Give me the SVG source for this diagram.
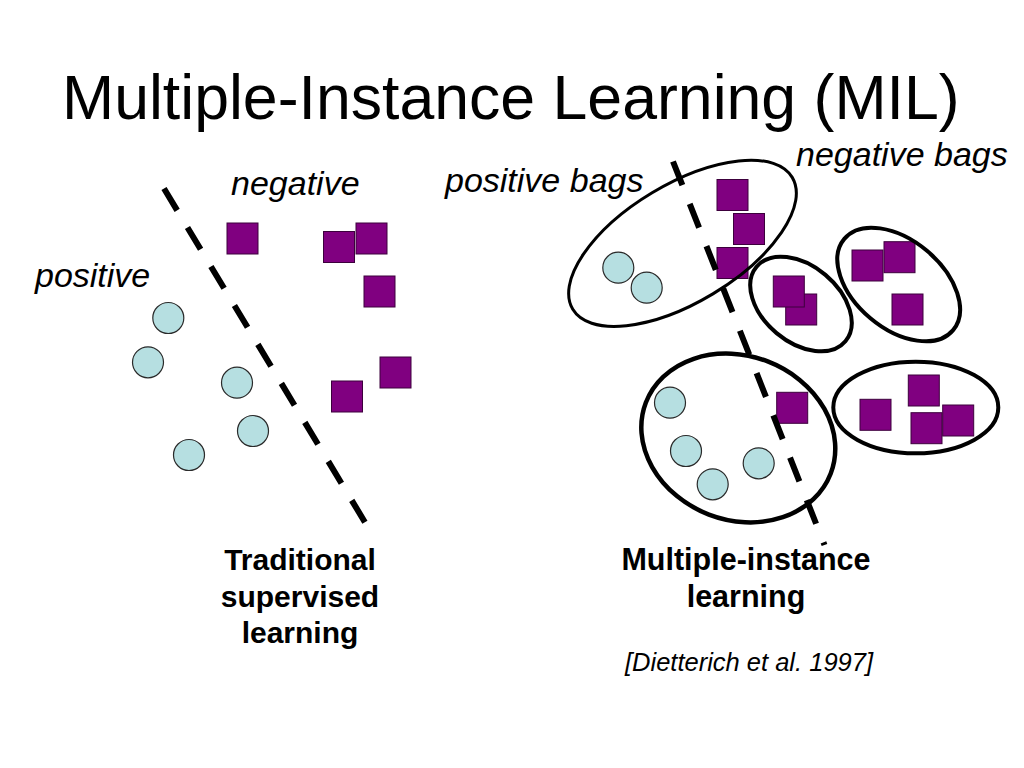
<svg xmlns="http://www.w3.org/2000/svg" width="1024" height="768" viewBox="0 0 1024 768">
<style>
.t{font-family:"Liberation Sans",Arial,sans-serif;fill:#000}
.title{font-size:62.6px}
.lab{font-size:34px;font-style:italic}
.cap{font-size:30px;font-weight:bold;text-anchor:middle}
.cap2{font-size:30.5px;font-weight:bold;text-anchor:middle}
.ref{font-size:25.5px;font-style:italic;text-anchor:middle}
.sq{fill:#800080;stroke:#3c003c;stroke-width:1}
.ci{fill:#b6dfe1;stroke:#2a2a2a;stroke-width:1.2}
.bag{fill:none;stroke:#000}
.sep{fill:none;stroke:#000;stroke-width:6;stroke-dasharray:25.5 20}
</style>
<rect width="1024" height="768" fill="#fff"/>
<text class="t title" x="62" y="119">Multiple-Instance Learning (MIL)</text>
<g id="labels">
<text class="t lab" x="231" y="195">negative</text>
<text class="t lab" x="35" y="287">positive</text>
<text class="t lab" x="445" y="192">positive bags</text>
<text class="t lab" x="796" y="166">negative bags</text>
</g>
<g id="traditional">
<g id="neg1"><rect class="sq" x="227" y="223" width="31" height="31"/></g>
<g id="neg2"><rect class="sq" x="323.5" y="231.5" width="31" height="31"/></g>
<g id="neg3"><rect class="sq" x="356" y="223" width="31" height="31"/></g>
<g id="neg4"><rect class="sq" x="364" y="276" width="31" height="31"/></g>
<g id="neg5"><rect class="sq" x="380" y="357" width="31" height="31"/></g>
<g id="neg6"><rect class="sq" x="331.5" y="381" width="31" height="31"/></g>
<g id="pos1"><circle class="ci" cx="168.3" cy="318" r="15.5"/></g>
<g id="pos2"><circle class="ci" cx="148" cy="362.3" r="15.5"/></g>
<g id="pos3"><circle class="ci" cx="237" cy="382.7" r="15.5"/></g>
<g id="pos4"><circle class="ci" cx="253" cy="431" r="15.5"/></g>
<g id="pos5"><circle class="ci" cx="189" cy="455" r="15.5"/></g>
</g>
<g id="bag-pos1">
<rect class="sq" x="717" y="179.5" width="31" height="31"/>
<rect class="sq" x="733.5" y="213.5" width="31" height="31"/>
<rect class="sq" x="717" y="247.5" width="31" height="31"/>
<circle class="ci" cx="618.3" cy="267.7" r="15.5"/>
<circle class="ci" cx="646.7" cy="287.7" r="15.5"/>
<ellipse class="bag" stroke-width="3" cx="682.5" cy="243.3" rx="128" ry="59" transform="rotate(-31 682.5 243.3)"/>
</g>
<g id="bag-neg1">
<rect class="sq" x="785.7" y="294" width="31" height="31"/>
<rect class="sq" x="773.3" y="276" width="31" height="31"/>
<ellipse class="bag" stroke-width="4" cx="801" cy="304" rx="58" ry="38" transform="rotate(40 801 304)"/>
</g>
<g id="bag-neg2">
<rect class="sq" x="852" y="250" width="31" height="31"/>
<rect class="sq" x="884" y="241.7" width="31" height="31"/>
<rect class="sq" x="892" y="294" width="31" height="31"/>
<ellipse class="bag" stroke-width="4" cx="898.7" cy="284.5" rx="71" ry="44" transform="rotate(40 898.7 284.5)"/>
</g>
<g id="bag-pos2">
<circle class="ci" cx="670" cy="402.7" r="15.5"/>
<circle class="ci" cx="686" cy="451" r="15.5"/>
<circle class="ci" cx="712.7" cy="484.3" r="15.5"/>
<circle class="ci" cx="758.7" cy="463.3" r="15.5"/>
<rect class="sq" x="776.7" y="392.3" width="31" height="31"/>
<ellipse class="bag" stroke-width="4.5" cx="738.3" cy="438" rx="99" ry="82" transform="rotate(21 738.3 438)"/>
</g>
<g id="bag-neg3">
<rect class="sq" x="860" y="399.3" width="31" height="31"/>
<rect class="sq" x="908.3" y="375" width="31" height="31"/>
<rect class="sq" x="942.7" y="405" width="31" height="31"/>
<rect class="sq" x="911" y="412.7" width="31" height="31"/>
<ellipse class="bag" stroke-width="4" cx="915.8" cy="407.5" rx="82.5" ry="45.8"/>
</g>
<g id="connectors">
<line class="sep" x1="164" y1="188.5" x2="366" y2="524"/>
<line class="sep" x1="673" y1="161.5" x2="824.5" y2="545"/>
</g>
<g id="captions">
<text class="t cap" x="300" y="570">Traditional</text>
<text class="t cap" x="300" y="607">supervised</text>
<text class="t cap" x="300" y="643">learning</text>
<text class="t cap2" x="746" y="570">Multiple-instance</text>
<text class="t cap2" x="746" y="607">learning</text>
<text class="t ref" x="749" y="671">[Dietterich et al. 1997]</text>
</g>
</svg>
